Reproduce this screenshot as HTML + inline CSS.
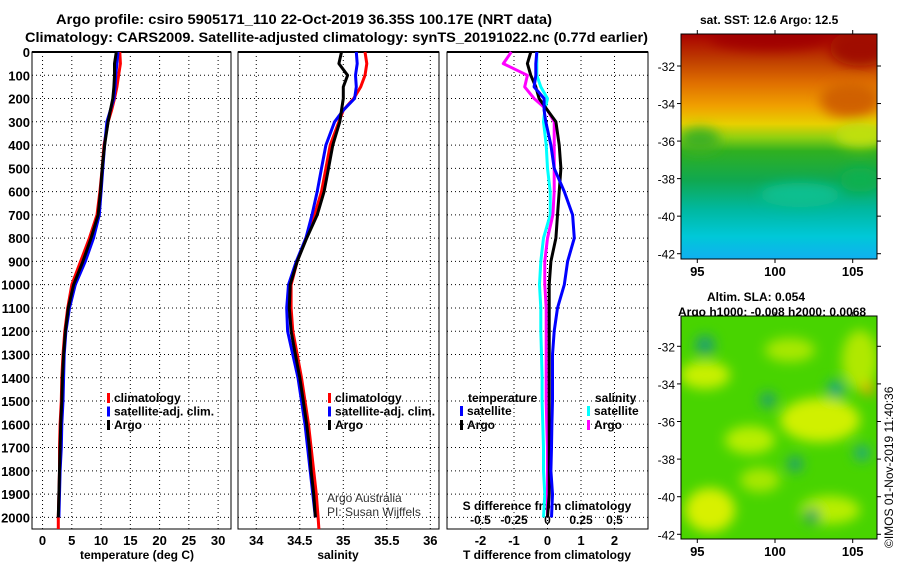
<!DOCTYPE html>
<html><head><meta charset="utf-8"><style>
body{margin:0;background:#fff;}
svg text{font-family:"Liberation Sans",sans-serif;font-weight:bold;fill:#000;}
</style></head><body>
<svg id="c" width="900" height="580" viewBox="0 0 900 580" xmlns="http://www.w3.org/2000/svg">
<defs>
<linearGradient id="sstg" x1="0" y1="0" x2="0" y2="1">
<stop offset="0" stop-color="#a80000"/><stop offset="0.12" stop-color="#c04000"/>
<stop offset="0.22" stop-color="#e07000"/><stop offset="0.32" stop-color="#f0a000"/>
<stop offset="0.40" stop-color="#e8d000"/><stop offset="0.46" stop-color="#90d010"/>
<stop offset="0.52" stop-color="#30b020"/><stop offset="0.65" stop-color="#10a850"/>
<stop offset="0.78" stop-color="#00b8a0"/><stop offset="0.9" stop-color="#00c8d8"/>
<stop offset="1" stop-color="#10b0f0"/>
</linearGradient>
<filter id="bl"><feGaussianBlur stdDeviation="6"/></filter>
<clipPath id="m1"><rect x="681" y="34" width="196" height="225"/></clipPath>
<clipPath id="m2"><rect x="681" y="316" width="196" height="223"/></clipPath>
</defs>
<text x="56" y="24" font-size="14" textLength="496" lengthAdjust="spacingAndGlyphs">Argo profile: csiro 5905171_110 22-Oct-2019 36.35S 100.17E (NRT data)</text>
<text x="25" y="42" font-size="14" textLength="623" lengthAdjust="spacingAndGlyphs">Climatology: CARS2009. Satellite-adjusted climatology: synTS_20191022.nc (0.77d earlier)</text>
<text x="700" y="24" font-size="12">sat. SST: 12.6 Argo: 12.5</text>
<g id="sstmap" clip-path="url(#m1)">
<rect x="681" y="34" width="196" height="225" fill="url(#sstg)"/>
<g filter="url(#bl)">
<ellipse cx="770" cy="38" rx="60" ry="12" fill="#a00000"/>
<ellipse cx="860" cy="48" rx="30" ry="18" fill="#a00800"/>
<ellipse cx="850" cy="100" rx="30" ry="18" fill="#d06000"/>
<ellipse cx="700" cy="140" rx="20" ry="12" fill="#40b020"/>
<ellipse cx="860" cy="135" rx="25" ry="12" fill="#c0e010"/>
<ellipse cx="800" cy="195" rx="40" ry="12" fill="#10c090"/>
<ellipse cx="860" cy="180" rx="20" ry="12" fill="#10b050"/>
</g></g>
<rect x="681" y="34" width="196" height="225" fill="none" stroke="#000"/>
<text x="707" y="301" font-size="12">Altim. SLA: 0.054</text>
<text x="678" y="316" font-size="12">Argo h1000: -0.008 h2000: 0.0068</text>
<g clip-path="url(#m2)">
<rect x="681" y="316" width="196" height="223" fill="#48d400"/>
<g filter="url(#bl)">
<ellipse cx="705" cy="375" rx="25" ry="14" fill="#c8f000"/>
<ellipse cx="820" cy="420" rx="40" ry="22" fill="#d0f000"/>
<ellipse cx="750" cy="440" rx="25" ry="14" fill="#b8ee00"/>
<ellipse cx="710" cy="510" rx="25" ry="22" fill="#d8f000"/>
<ellipse cx="830" cy="510" rx="30" ry="14" fill="#b8ee00"/>
<ellipse cx="860" cy="360" rx="18" ry="30" fill="#b0e800"/>
<ellipse cx="790" cy="350" rx="25" ry="12" fill="#a8e800"/>
<ellipse cx="760" cy="480" rx="20" ry="12" fill="#a8e800"/>
<ellipse cx="705" cy="345" rx="10" ry="10" fill="#20a070"/>
<ellipse cx="768" cy="400" rx="8" ry="8" fill="#20a070"/>
<ellipse cx="836" cy="389" rx="9" ry="9" fill="#20a880"/>
<ellipse cx="795" cy="464" rx="8" ry="8" fill="#20a070"/>
<ellipse cx="862" cy="453" rx="8" ry="8" fill="#20a880"/>
<ellipse cx="812" cy="516" rx="8" ry="8" fill="#30a060"/>
<ellipse cx="868" cy="389" rx="6" ry="6" fill="#f0a000"/>
</g></g>
<rect x="681" y="316" width="196" height="223" fill="none" stroke="#000"/>
<text transform="translate(893,548) rotate(-90)" font-size="12" style="font-weight:normal">©IMOS 01-Nov-2019 11:40:36</text>
<text x="327" y="502" font-size="12" style="font-weight:normal;fill:#333">Argo Australia</text>
<text x="327" y="516" font-size="12" style="font-weight:normal;fill:#333">PI: Susan Wijffels</text>
</svg>
<script>
// ---- data ----
const depthTicks=[0,100,200,300,400,500,600,700,800,900,1000,1100,1200,1300,1400,1500,1600,1700,1800,1900,2000];
const tTicks=[0,5,10,15,20,25,30];
const sTicks=[34,34.5,35,35.5,36];
const dTicks=[-2,-1,0,1,2];
const sdTicks=[-0.5,-0.25,0,0.25,0.5];
const sdTickLabels=["-0.5","-0.25","0","0.25","0.5"];
const lonTicks=[95,100,105];
const latTicks=[-32,-34,-36,-38,-40,-42];

const depths=[0,50,100,150,200,250,300,400,500,600,700,800,900,1000,1100,1200,1300,1400,1500,1600,1700,1800,1900,2000,2050];
const tempClim=[13.2,13.3,13.0,12.7,12.3,11.8,11.2,10.5,10.2,9.8,9.3,8.0,6.5,5.0,4.3,3.8,3.5,3.3,3.2,3.0,2.9,2.9,2.8,2.7,2.7];
const tempSat=[12.9,12.7,12.5,12.4,12.2,11.6,11.0,10.6,10.3,10.0,9.7,8.7,7.3,5.6,4.6,4.0,3.7,3.6,3.5,3.3,3.2,3.0,2.9,2.8,null];
const tempArgo=[12.6,12.3,12.3,12.2,12.0,11.6,11.2,10.6,10.2,9.9,9.5,8.3,6.9,5.3,4.4,3.9,3.6,3.4,3.3,3.1,3.0,2.9,2.8,2.7,null];
const salClim=[35.25,35.27,35.25,35.2,35.12,35.0,34.95,34.85,34.8,34.75,34.67,34.57,34.47,34.4,34.4,34.42,34.47,34.52,34.56,34.6,34.63,34.66,34.69,34.71,34.72];
const salSat=[35.15,35.16,35.14,35.15,35.13,35.0,34.9,34.8,34.75,34.7,34.64,34.57,34.46,34.37,34.35,34.36,34.42,34.48,34.52,34.56,34.59,34.62,34.65,34.68,null];
const salArgo=[34.98,34.95,35.05,35.0,35.0,34.98,34.96,34.88,34.83,34.78,34.70,34.58,34.47,34.39,34.38,34.4,34.45,34.5,34.54,34.58,34.61,34.63,34.66,34.68,null];
const dTSat=[-0.32,-0.35,-0.35,-0.4,-0.1,-0.1,-0.05,0.1,0.2,0.5,0.75,0.8,0.6,0.5,0.3,0.2,0.15,0.15,0.15,0.13,0.12,0.1,0.15,0.12,null];
const dTArgo=[-0.5,-0.6,-0.5,-0.35,-0.25,0.0,0.25,0.35,0.4,0.35,0.3,0.25,0.1,0.05,0.05,0.05,0.05,0.05,0.05,0.05,0.05,0.05,0.05,0.0,null];
const dSSat=[-0.08,-0.08,-0.08,-0.05,0.0,-0.02,-0.03,-0.01,0.0,0.02,0.02,-0.03,-0.05,-0.06,-0.05,-0.05,-0.045,-0.04,-0.04,-0.035,-0.03,-0.03,-0.02,-0.03,null];
const dSArgo=[-0.27,-0.33,-0.15,-0.17,-0.1,0.0,0.05,0.05,0.05,0.05,0.04,0.0,-0.02,-0.02,-0.01,-0.01,-0.01,-0.01,-0.01,-0.005,0.0,0.0,0.0,0.0,null];

// ---- axes ----
const NS="http://www.w3.org/2000/svg";
const svg=document.getElementById('c');
const Y0=52, YB=529, DMAX=2050;
function yD(d){return Y0+(YB-Y0)*d/DMAX;}
function lin(v0,v1,p0,p1){return v=>p0+(v-v0)*(p1-p0)/(v1-v0);}
const panels=[
 {x0:32,x1:231,xs:lin(-1.8,32.2,32,231),name:'temperature-panel'},
 {x0:238,x1:439,xs:lin(33.79,36.1,238,439),name:'salinity-panel'},
 {x0:447,x1:648,xs:lin(-3,3,447,648),name:'difference-panel'}];
const sdx=lin(-0.75,0.75,447,648);
function el(tag,attrs,parent){const e=document.createElementNS(NS,tag);for(const k in attrs)e.setAttribute(k,attrs[k]);(parent||svg).appendChild(e);return e;}
function txt(s,x,y,size,anchor,parent){const t=el('text',{x:x,y:y,'font-size':size,'text-anchor':anchor||'start'},parent);t.textContent=s;return t;}

panels.forEach((p,i)=>{
  const g=el('g',{});
  
  
  depthTicks.forEach(d=>{const l=el('line',{x1:p.x0,x2:p.x1,y1:yD(d),y2:yD(d),stroke:'#000','stroke-dasharray':'1,3'},g);
    
    });
  const tk=i==0?tTicks:i==1?sTicks:dTicks;
  tk.forEach(v=>{const x=p.xs(v);el('line',{x1:x,x2:x,y1:Y0,y2:YB,stroke:'#000','stroke-dasharray':'1,3'},g);
    const t=txt(String(v),x,545,13,'middle',g);
    
    });
  el('line',{x1:p.x0,x2:p.x1,y1:Y0,y2:Y0,stroke:'#000','stroke-width':2},g);
  el('rect',{x:p.x0,y:Y0,width:p.x1-p.x0,height:YB-Y0,fill:'none',stroke:'#000'},g);
});
depthTicks.forEach(d=>{const t=txt(String(d),30,yD(d)+5,13,'end');
  
  });
[['temperature (deg C)',137],['salinity',338],['T difference from climatology',547]].forEach(a=>{
  const t=txt(a[0],a[1],559,12,'middle');
  
  });
const sdt=txt('S difference from climatology',547,510,12,'middle');


sdTicks.forEach((v,i)=>{const t=txt(sdTickLabels[i],sdx(v),524,12,'middle');
  
  });

function series(vals,xs,color,name){
  let d='';vals.forEach((v,i)=>{if(v==null)return;d+=(d?'L':'M')+xs(v).toFixed(1)+','+yD(depths[i]).toFixed(1);});
  const p=el('path',{d:d,fill:'none',stroke:color,'stroke-width':3,'stroke-linejoin':'round'});
  
  
}
const P=panels;
series(tempClim,P[0].xs,'#ff0000','temperature-climatology-line');
series(tempSat,P[0].xs,'#0000ff','temperature-satellite-line');
series(tempArgo,P[0].xs,'#000000','temperature-argo-line');
series(salClim,P[1].xs,'#ff0000','salinity-climatology-line');
series(salSat,P[1].xs,'#0000ff','salinity-satellite-line');
series(salArgo,P[1].xs,'#000000','salinity-argo-line');
series(dSSat,sdx,'#00ffff','salinity-diff-satellite-line');
series(dSArgo,sdx,'#ff00ff','salinity-diff-argo-line');
series(dTArgo,P[2].xs,'#000000','temperature-diff-argo-line');
series(dTSat,P[2].xs,'#0000ff','temperature-diff-satellite-line');

function legend(x,y,color,label){
  const r=el('rect',{x:x,y:y-9,width:3,height:10,fill:color});
  
  
  const t=txt(label,x+7,y,12);
  
  
}
[[0,'#ff0000','climatology'],[1,'#0000ff','satellite-adj. clim.'],[2,'#000000','Argo']].forEach(a=>{
  legend(107,402+a[0]*13.5,a[1],a[2]);legend(328,402+a[0]*13.5,a[1],a[2]);});
let lt=txt('temperature',468,402,12);


lt=txt('salinity',595,402,12);


legend(460,415,'#0000ff','satellite');legend(460,429,'#000000','Argo');
legend(587,415,'#00ffff','satellite');legend(587,429,'#ff00ff','Argo');

// map axes
const lonX=lin(95,105,697.3,852.7);
[[34,259,lin(-32,-42,66,253.7)],[316,539,lin(-32,-42,346.3,534.3)]].forEach(m=>{
  lonTicks.forEach(v=>{const x=lonX(v);el('line',{x1:x,x2:x,y1:m[1],y2:m[1]+4,stroke:'#000'});el('line',{x1:x,x2:x,y1:m[0]-4,y2:m[0],stroke:'#000'});
    const t=txt(String(v),x,m[1]+17,13,'middle');
    
    });
  latTicks.forEach(v=>{const y=m[2](v);el('line',{x1:677,x2:681,y1:y,y2:y,stroke:'#000'});el('line',{x1:877,x2:881,y1:y,y2:y,stroke:'#000'});
    const t=txt(String(v),675,y+5,12,'end');
    
    
    t.setAttribute('style','font-weight:normal');});
});
</script>
</body></html>
